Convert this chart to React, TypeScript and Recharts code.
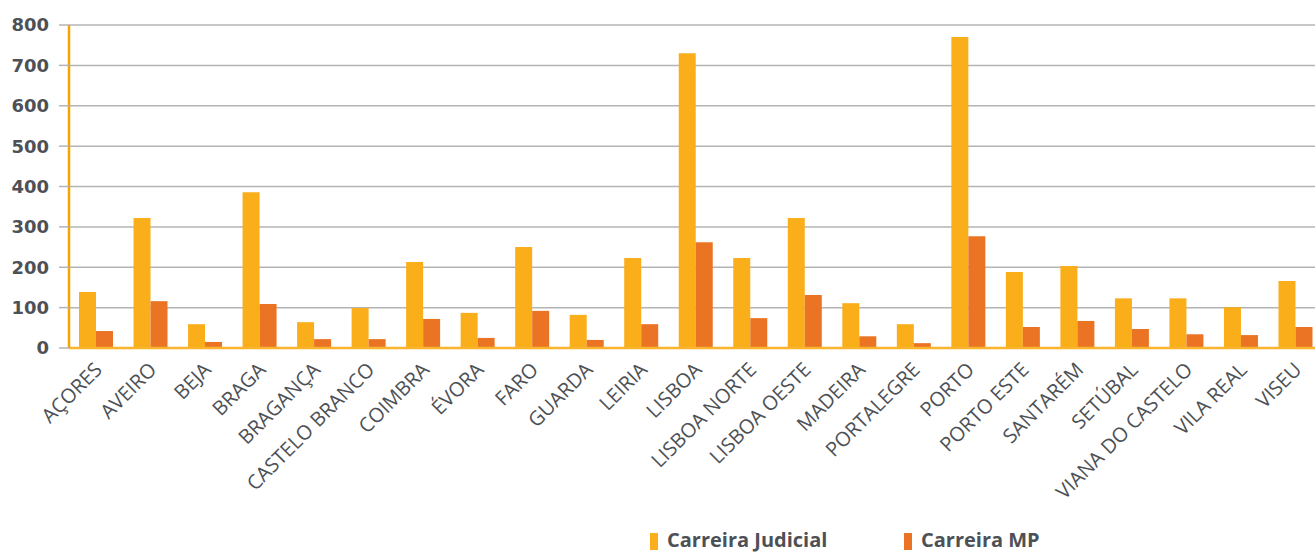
import { BarChart, Bar, XAxis, YAxis, CartesianGrid, Legend } from 'recharts';

const comarcas = [
    'AÇORES',
    'AVEIRO',
    'BEJA',
    'BRAGA',
    'BRAGANÇA',
    'CASTELO BRANCO',
    'COIMBRA',
    'ÉVORA',
    'FARO',
    'GUARDA',
    'LEIRIA',
    'LISBOA',
    'LISBOA NORTE',
    'LISBOA OESTE',
    'MADEIRA',
    'PORTALEGRE',
    'PORTO',
    'PORTO ESTE',
    'SANTARÉM',
    'SETÚBAL',
    'VIANA DO CASTELO',
    'VILA REAL',
    'VISEU',
];

const carreiraJudicial = [
    139, 322, 59, 386, 64, 99, 213, 87, 250, 82, 223, 730, 223, 322, 111, 59, 770, 188, 203,
    123, 123, 101, 166,
];

const carreiraMP = [
    42, 116, 15, 109, 22, 22, 72, 25, 92, 20, 59, 262, 74, 131, 29, 12, 277, 52, 67, 47, 34, 32,
    52,
];

const yTicks = [0, 100, 200, 300, 400, 500, 600, 700, 800];

const AMARELO = '#F9AE1A';
const LARANJA = '#EA7424';
const TEXTO = '#4d5156';

const chartData = comarcas.map((name, i) => ({
    name,
    judicial: carreiraJudicial[i],
    mp: carreiraMP[i],
}));

const CategoryTick = (props: any) => {
    const { x, payload } = props;
    return (
        <g transform={`translate(${x + 7},${371}) rotate(-45)`}>
            <text
                x={0}
                y={0}
                textAnchor='end'
                fill={TEXTO}
                style={{ fontFamily: '"Open Sans", sans-serif', fontSize: 20 }}
            >
                {payload.value}
            </text>
        </g>
    );
};

const LegendContent = () => {
    const items = [
        { label: 'Carreira Judicial', color: AMARELO, width: 254 },
        { label: 'Carreira MP', color: LARANJA, width: 170 },
    ];
    return (
        <div style={{ display: 'flex', alignItems: 'flex-end', height: 25 }}>
            {items.map((it) => (
                <div
                    key={it.label}
                    style={{ display: 'flex', alignItems: 'flex-end', width: it.width }}
                >
                    <span
                        style={{
                            display: 'inline-block',
                            width: 8,
                            height: 17,
                            background: it.color,
                            marginRight: 9,
                            marginBottom: 2,
                        }}
                    />
                    <span
                        style={{
                            fontFamily: '"Open Sans", sans-serif',
                            fontWeight: 700,
                            fontSize: 20,
                            lineHeight: '25px',
                            color: TEXTO,
                            whiteSpace: 'nowrap',
                        }}
                    >
                        {it.label}
                    </span>
                </div>
            ))}
        </div>
    );
};

const App: React.FC = () => {
    return (
        <div
            style={{
                position: 'absolute',
                left: 0,
                top: 0,
                width: 1315,
                height: 552,
                overflow: 'hidden',
                background: '#fff',
            }}
        >
            <BarChart
                width={1330}
                height={552}
                data={chartData}
                margin={{ top: 25, right: 7, left: 0, bottom: 0 }}
                barSize={17}
                barGap={0}
            >
                <CartesianGrid vertical={false} stroke='#b4b4b4' strokeWidth={1.5} />
                <XAxis
                    dataKey='name'
                    interval={0}
                    height={179}
                    tickLine={false}
                    tickSize={0}
                    tickMargin={0}
                    axisLine={{ stroke: '#FBB42C', strokeWidth: 2.5 }}
                    tick={<CategoryTick />}
                />
                <YAxis
                    width={69}
                    domain={[0, 800]}
                    ticks={yTicks}
                    interval={0}
                    axisLine={{ stroke: '#F5A300', strokeWidth: 2.5 }}
                    tickLine={{ stroke: '#b4b4b4', strokeWidth: 1.5 }}
                    tickSize={10}
                    tickMargin={10}
                    tick={{
                        fill: TEXTO,
                        fontFamily: '"DejaVu Sans", sans-serif',
                        fontWeight: 700,
                        fontSize: 18,
                    }}
                />
                <Legend
                    verticalAlign='bottom'
                    content={<LegendContent />}
                    wrapperStyle={{ left: 650, width: 440 }}
                />
                <Bar dataKey='judicial' name='Carreira Judicial' fill={AMARELO} isAnimationActive={false} />
                <Bar dataKey='mp' name='Carreira MP' fill={LARANJA} isAnimationActive={false} />
            </BarChart>
        </div>
    );
};

export default App;
